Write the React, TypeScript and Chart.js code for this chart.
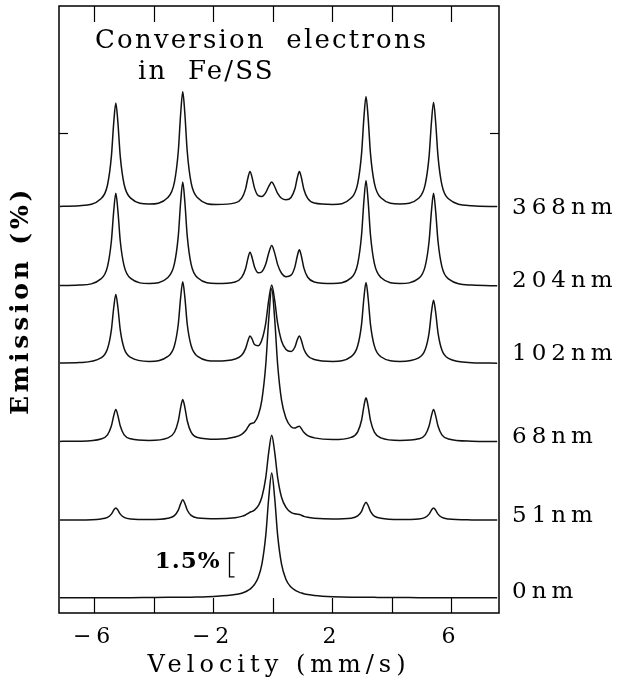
import React, { useEffect, useRef } from 'react';
import { Chart, registerables } from 'chart.js';

Chart.register(...registerables);

// Velocity grid (mm/s) shared by all spectra
const velocity = [
  -7.15, -6.5,
  -5.77, -5.55, -5.42, -5.34, -5.27, -5.2, -5.12, -4.99, -4.77,
  -4.15,
  -3.52, -3.3, -3.17, -3.09, -3.02, -2.95, -2.87, -2.74, -2.52,
  -1.89,
  -1.26, -1.04, -0.91, -0.83, -0.76, -0.69, -0.61, -0.48, -0.36, -0.23, -0.13, -0.03,
  0.07, 0.17, 0.3, 0.45, 0.62, 0.75, 0.83, 0.9, 0.97, 1.05, 1.18, 1.4,
  2.02,
  2.64, 2.86, 2.99, 3.07, 3.14, 3.21, 3.29, 3.42, 3.64,
  4.28,
  4.91, 5.13, 5.26, 5.34, 5.41, 5.48, 5.56, 5.69, 5.91,
  6.7, 7.55,
];

// Emission (%) above each spectrum's own baseline
const emission368nm = [
  0.03, 0.07,
  0.51, 1.37, 3.14, 5.27, 6.5, 5.27, 3.14, 1.4, 0.55,
  0.18,
  0.59, 1.55, 3.48, 5.84, 7.2, 5.84, 3.48, 1.52, 0.57,
  0.15,
  0.25, 0.53, 1.11, 1.81, 2.22, 1.84, 1.19, 0.7, 0.65, 0.89, 1.28, 1.55,
  1.26, 0.84, 0.54, 0.44, 0.59, 1.13, 1.82, 2.21, 1.81, 1.1, 0.53, 0.24,
  0.15,
  0.55, 1.46, 3.33, 5.6, 6.9, 5.6, 3.33, 1.49, 0.57,
  0.18,
  0.54, 1.41, 3.16, 5.31, 6.55, 5.31, 3.16, 1.38, 0.51,
  0.07, 0.02,
];
const emission204nm = [
  0.03, 0.06,
  0.45, 1.22, 2.8, 4.7, 5.8, 4.7, 2.8, 1.25, 0.48,
  0.16,
  0.54, 1.4, 3.14, 5.27, 6.5, 5.27, 3.14, 1.37, 0.52,
  0.16,
  0.26, 0.54, 1.08, 1.73, 2.12, 1.79, 1.21, 0.83, 0.9, 1.38, 2.07, 2.54,
  2.06, 1.34, 0.8, 0.59, 0.68, 1.2, 1.88, 2.27, 1.85, 1.14, 0.55, 0.26,
  0.16,
  0.51, 1.39, 3.19, 5.35, 6.6, 5.35, 3.19, 1.42, 0.54,
  0.16,
  0.48, 1.25, 2.8, 4.7, 5.8, 4.7, 2.8, 1.22, 0.45,
  0.06, 0.02,
];
const emission102nm = [
  0.02, 0.05,
  0.34, 0.91, 2.08, 3.49, 4.3, 3.49, 2.08, 0.93, 0.37,
  0.12,
  0.43, 1.1, 2.46, 4.14, 5.1, 4.14, 2.46, 1.11, 0.43,
  0.14,
  0.27, 0.5, 0.92, 1.4, 1.71, 1.52, 1.18, 1.1, 1.47, 2.52, 3.95, 4.9,
  3.93, 2.49, 1.4, 0.87, 0.74, 1.02, 1.47, 1.71, 1.41, 0.9, 0.47, 0.24,
  0.12,
  0.42, 1.1, 2.44, 4.1, 5.05, 4.1, 2.44, 1.09, 0.41,
  0.12,
  0.34, 0.86, 1.91, 3.2, 3.95, 3.2, 1.91, 0.83, 0.31,
  0.04, 0.01,
];
const emission68nm = [
  0.02, 0.03,
  0.17, 0.43, 0.98, 1.63, 2.01, 1.63, 0.98, 0.43, 0.18,
  0.08,
  0.24, 0.59, 1.3, 2.15, 2.64, 2.15, 1.31, 0.6, 0.26,
  0.15,
  0.29, 0.46, 0.68, 0.91, 1.1, 1.15, 1.22, 1.67, 2.62, 4.81, 7.67, 9.58,
  7.67, 4.81, 2.6, 1.47, 0.94, 0.85, 0.93, 0.97, 0.81, 0.59, 0.38, 0.24,
  0.13,
  0.27, 0.62, 1.34, 2.23, 2.74, 2.23, 1.33, 0.6, 0.24,
  0.08,
  0.18, 0.43, 0.98, 1.63, 2.01, 1.63, 0.98, 0.43, 0.17,
  0.03, 0.01,
];
const emission51nm = [
  0.01, 0.01,
  0.07, 0.17, 0.37, 0.62, 0.76, 0.62, 0.37, 0.17, 0.07,
  0.03,
  0.12, 0.28, 0.62, 1.03, 1.27, 1.04, 0.63, 0.29, 0.13,
  0.08,
  0.15, 0.23, 0.32, 0.41, 0.49, 0.54, 0.62, 0.9, 1.44, 2.66, 4.25, 5.3,
  4.25, 2.66, 1.43, 0.8, 0.48, 0.39, 0.37, 0.35, 0.3, 0.23, 0.17, 0.12,
  0.07,
  0.12, 0.26, 0.55, 0.91, 1.12, 0.91, 0.55, 0.25, 0.11,
  0.03,
  0.07, 0.17, 0.37, 0.62, 0.76, 0.62, 0.37, 0.17, 0.07,
  0.01, 0.0,
];
const emission0nm = [
  0.0, 0.01,
  0.01, 0.01, 0.01, 0.01, 0.01, 0.01, 0.01, 0.01, 0.01,
  0.02,
  0.03, 0.03, 0.03, 0.03, 0.04, 0.04, 0.04, 0.04, 0.05,
  0.09,
  0.2, 0.29, 0.38, 0.46, 0.54, 0.66, 0.83, 1.29, 2.1, 3.9, 6.24, 7.8,
  6.24, 3.9, 2.1, 1.15, 0.67, 0.48, 0.4, 0.34, 0.3, 0.26, 0.21, 0.15,
  0.07,
  0.04, 0.04, 0.03, 0.03, 0.03, 0.03, 0.03, 0.03, 0.02,
  0.02,
  0.01, 0.01, 0.01, 0.01, 0.01, 0.01, 0.01, 0.01, 0.01,
  0.01, 0.0,
];

const thicknessLabels = ['0nm', '51nm', '68nm', '102nm', '204nm', '368nm'];
const spectra = [emission0nm, emission51nm, emission68nm, emission102nm, emission204nm, emission368nm];
const baselines = [0, 4.86, 9.76, 14.66, 19.49, 24.44];
const labelLevels = [0.36, 5.11, 10.05, 15.24, 19.8, 24.36];

const xTickValues = [-6, -4, -2, 0, 2, 4, 6];
const xTickLabels = ['\u22126', '', '\u22122', '', '2', '', '6'];
const yTickValues = [29.05];
const scaleBarPercent = 1.5;
const scaleBarLabel = '1.5%';

const FONT = "'DejaVu Serif', serif";

export default function App() {
  const ref = useRef<HTMLCanvasElement>(null);

  useEffect(() => {
    const canvas = ref.current;
    if (!canvas) return;

    const datasets = spectra.map((vals, k) => ({
      label: thicknessLabels[k],
      data: velocity.map((v, i) => ({ x: v, y: baselines[k] + vals[i] })),
      borderColor: '#111',
      borderWidth: 1.5,
      pointRadius: 0,
      fill: false,
      cubicInterpolationMode: 'monotone' as const,
    }));

    const decor = {
      id: 'decor',
      afterLayout(chart: any) {
        const s = chart.scales.y;
        if (s && !s.__wrappedTitle) {
          const orig = s.drawTitle.bind(s);
          s.drawTitle = function () {
            const ctx = chart.ctx;
            ctx.save();
            ctx.letterSpacing = '3.8px';
            ctx.translate(0, -9);
            orig();
            ctx.restore();
          };
          s.__wrappedTitle = true;
        }
      },
      beforeDraw(chart: any) {
        chart.ctx.letterSpacing = '5px';
      },
      afterDatasetsDraw(chart: any) {
        const { ctx, chartArea: a, scales } = chart;
        const xs = scales.x;
        const ys = scales.y;
        ctx.save();
        ctx.letterSpacing = '0px';
        ctx.strokeStyle = '#000';
        ctx.lineWidth = 1.5;
        ctx.strokeRect(a.left, a.top, a.right - a.left, a.bottom - a.top);
        ctx.lineWidth = 1.2;
        const line = (x1: number, y1: number, x2: number, y2: number) => {
          ctx.beginPath();
          ctx.moveTo(x1, y1);
          ctx.lineTo(x2, y2);
          ctx.stroke();
        };
        for (const v of xTickValues) {
          const px = Math.round(xs.getPixelForValue(v)) + 0.5;
          line(px, a.top, px, a.top + 16);
          line(px, a.bottom, px, a.bottom - 15);
        }
        for (const v of yTickValues) {
          const py = Math.round(ys.getPixelForValue(v)) + 0.5;
          line(a.left, py, a.left + 9, py);
          line(a.right, py, a.right - 9, py);
        }
        // 1.5% scale bar
        const bx = Math.round(xs.getPixelForValue(-1.46)) + 0.5;
        const by0 = ys.getPixelForValue(1.31);
        const by1 = ys.getPixelForValue(1.31 + scaleBarPercent);
        ctx.lineWidth = 1.3;
        ctx.beginPath();
        ctx.moveTo(bx + 5, by1);
        ctx.lineTo(bx, by1);
        ctx.lineTo(bx, by0);
        ctx.lineTo(bx + 5, by0);
        ctx.stroke();
        ctx.fillStyle = '#000';
        ctx.font = `bold 23px ${FONT}`;
        ctx.textAlign = 'right';
        ctx.textBaseline = 'alphabetic';
        ctx.letterSpacing = '1px';
        ctx.fillText(scaleBarLabel, bx - 9, (by0 + by1) / 2 + 3);
        // title
        ctx.font = `26px ${FONT}`;
        ctx.textAlign = 'left';
        ctx.letterSpacing = '2.2px';
        (ctx as any).wordSpacing = '10px';
        ctx.fillText('Conversion electrons', a.left + 36, a.top + 42);
        ctx.fillText('in Fe/SS', a.left + 79, a.top + 73);
        (ctx as any).wordSpacing = '0px';
        ctx.restore();
      },
      afterDraw(chart: any) {
        chart.ctx.letterSpacing = '0px';
      },
    };

    const chart = new Chart(canvas, {
      type: 'line',
      data: { datasets },
      options: {
        animation: false,
        responsive: true,
        maintainAspectRatio: false,
        layout: { padding: { top: 6, left: 0, right: 0, bottom: 0 } },
        plugins: {
          legend: { display: false },
          tooltip: { enabled: false },
        },
        scales: {
          x: {
            type: 'linear',
            position: 'bottom',
            min: -7.18,
            max: 7.61,
            afterBuildTicks: (s: any) => {
              s.ticks = xTickValues.map((v) => ({ value: v }));
            },
            afterFit: (s: any) => {
              s.height = 71;
              s.paddingLeft = 0;
              s.paddingRight = 0;
            },
            grid: { display: false, drawTicks: false },
            border: { display: false },
            ticks: {
              autoSkip: false,
              maxRotation: 0,
              padding: 11,
              color: '#000',
              font: { family: FONT, size: 22 },
              callback: (val: any) => {
                const i = xTickValues.indexOf(Number(val));
                return i >= 0 ? xTickLabels[i] : '';
              },
            },
            title: {
              display: true,
              text: 'Velocity (mm/s)',
              color: '#000',
              font: { family: FONT, size: 24 },
              padding: { top: 0, bottom: 4 },
            },
          },
          y: {
            type: 'linear',
            position: 'left',
            min: -0.95,
            max: 37,
            afterFit: (s: any) => {
              s.width = 59;
              s.paddingTop = 0;
              s.paddingBottom = 0;
            },
            grid: { display: false, drawTicks: false },
            border: { display: false },
            ticks: { display: false },
            title: {
              display: true,
              text: 'Emission (%)',
              color: '#000',
              font: { family: FONT, size: 25, weight: 'bold' },
              padding: { top: 6, bottom: 0 },
            },
          },
          y2: {
            type: 'linear',
            position: 'right',
            min: -0.95,
            max: 37,
            afterBuildTicks: (s: any) => {
              s.ticks = labelLevels.map((v) => ({ value: v }));
            },
            afterFit: (s: any) => {
              s.width = 121;
              s.paddingTop = 0;
              s.paddingBottom = 0;
            },
            grid: { display: false, drawTicks: false },
            border: { display: false },
            ticks: {
              autoSkip: false,
              padding: 13,
              color: '#000',
              font: { family: FONT, size: 23 },
              callback: (_v: any, i: number) => thicknessLabels[i],
            },
          },
        },
      },
      plugins: [decor],
    });

    return () => chart.destroy();
  }, []);

  return (
    <div style={{ position: 'absolute', left: 0, top: 0, width: 620, height: 684, background: '#fff' }}>
      <canvas ref={ref} />
    </div>
  );
}
